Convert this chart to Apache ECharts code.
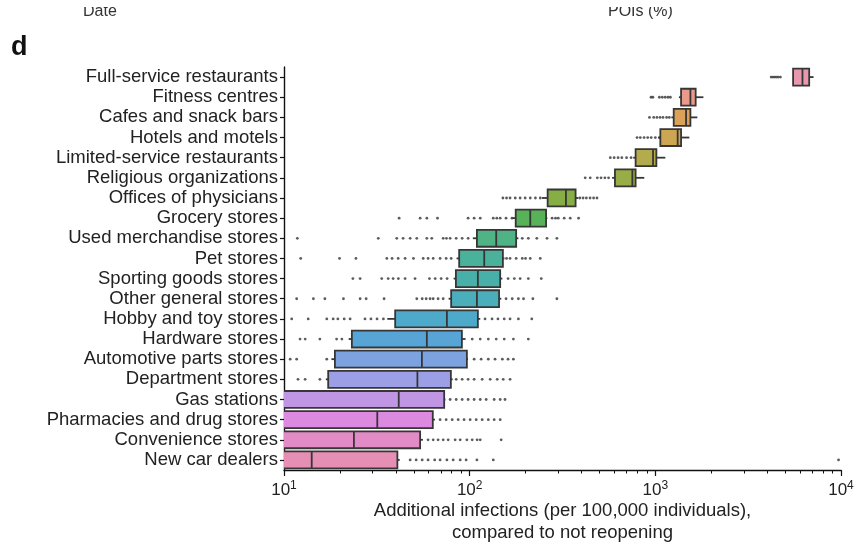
<!DOCTYPE html>
<html>
<head>
<meta charset="utf-8">
<script src="https://cdn.jsdelivr.net/npm/echarts@6/dist/echarts.min.js"></script>
<style>
  html, body { margin: 0; padding: 0; background: #fff; }
  #chart { width: 863px; height: 543px; }
</style>
</head>
<body>
<div id="chart"></div>
<script>
// Business categories, top to bottom
const categories = [
  'Full-service restaurants', 'Fitness centres', 'Cafes and snack bars',
  'Hotels and motels', 'Limited-service restaurants', 'Religious organizations',
  'Offices of physicians', 'Grocery stores', 'Used merchandise stores',
  'Pet stores', 'Sporting goods stores', 'Other general stores',
  'Hobby and toy stores', 'Hardware stores', 'Automotive parts stores',
  'Department stores', 'Gas stations', 'Pharmacies and drug stores',
  'Convenience stores', 'New car dealers'
];

// Box statistics (additional infections per 100,000 individuals)
const whiskerLow = [5521, 1340, 1220, 1040, 760, 585, 245, 170, 104, 85, 82, 77, 36, 22.3, 18, 16.8, 3, 3, 3, 3];
const q1         = [5521, 1376, 1256, 1064, 783, 606, 263, 177, 109.4, 87.8, 84.3, 79.5, 39.7, 23.2, 18.8, 17.3, 4, 4, 4, 4];
const median     = [6201, 1545, 1464, 1319, 972, 752, 330, 212, 139, 119.8, 110.7, 109.4, 75.4, 58.8, 55.3, 52.3, 41.5, 31.8, 23.8, 14.1];
const q3         = [6740, 1649, 1545, 1376, 1013, 783, 372, 258, 178, 151, 146, 144, 110.7, 90.8, 96.6, 79.2, 72.9, 63.3, 54.1, 40.8];
const whiskerHigh = [7112, 1815, 1684, 1525, 1132, 872, 385, 262, 183, 154, 150, 148, 114, 95, 98, 81, 74, 65, 56, 42];

// Outlying simulations per category
const outliers = [
  [4205, 4300, 4400, 4500, 4600, 4720],
  [948, 970, 1051, 1090, 1130, 1170, 1205],
  [930, 980, 1020, 1060, 1100, 1150, 1190],
  [797, 830, 870, 910, 950, 1000, 1051],
  [572, 600, 630, 660, 700, 740],
  [419, 446, 487, 510, 535, 560],
  [151, 158, 165, 176, 187, 199, 212, 226, 240, 392, 408, 425, 445, 465, 485],
  [41.7, 54.1, 58.8, 67.1, 98.1, 105.7, 114, 134, 140, 146, 157, 169, 278, 290, 300, 323, 348, 386],
  [11.8, 32.2, 40.5, 43.8, 47.8, 51.9, 58.8, 62.5, 72, 75, 78.5, 84.6, 91.1, 98.1, 192, 207, 230, 261, 295],
  [12.3, 19.9, 24.4, 35.8, 38.2, 41.2, 44.9, 49.8, 56.2, 59.7, 63.6, 69.3, 74.7, 79.5, 158, 165, 178, 192, 200, 212, 240],
  [23.5, 25.7, 33.6, 36.4, 38.7, 41.3, 44.9, 50.8, 60.7, 65.2, 70.2, 75.6, 161, 174, 187, 207, 243],
  [11.7, 14.4, 16.6, 20.9, 25.7, 27.7, 34.6, 51.9, 55.5, 58.3, 61.2, 63.6, 67.6, 72, 157, 169.5, 183, 195, 219, 295],
  [11.0, 13.5, 17.0, 18.4, 19.5, 21.1, 22.7, 27.3, 29.4, 31.7, 34.3, 121, 132, 142, 153.5, 165, 183, 216],
  [12.2, 13.0, 15.6, 19.2, 20.5, 103.2, 114, 126, 139, 153.5, 172, 207],
  [10.8, 11.7, 17.0, 105.7, 115.3, 126, 137, 150, 161, 172],
  [11.9, 13.0, 15.6, 84.6, 91.1, 98.1, 105.7, 116.8, 129, 140.7, 151.6, 165],
  [78.5, 84.6, 91.1, 98.1, 105.7, 114, 122.7, 135.5, 146, 155],
  [69.3, 74.7, 80.5, 86.7, 93.3, 100.6, 108.4, 116.8, 126, 135.5, 146],
  [59.7, 63.6, 67.6, 72, 76.6, 83.5, 88.9, 96.6, 103.2, 109.7, 114, 147.8],
  [47.8, 51.5, 55.5, 59.7, 64.8, 69.3, 75.4, 81.5, 88.9, 95.7, 109.4, 134, 9700]
];

// Log-axis minor tick values
const minorTicks = [20, 30, 40, 50, 60, 70, 80, 90, 200, 300, 400, 500, 600, 700, 800, 900,
                    2000, 3000, 4000, 5000, 6000, 7000, 8000, 9000];

// Box fill colours, one per category
const boxColors = [
  '#e898ae', '#e99a8a', '#dca158', '#cda653', '#b4ab4c', '#99ad47',
  '#86ae44', '#58b358', '#4fb386', '#4ab29b', '#48b0a9', '#4aaebb',
  '#4eaacb', '#56a5d6', '#7ca2df', '#9c9fe6', '#c096e4', '#db8ae0',
  '#e28bc6', '#e48fb3'
];
const edgeColor = '#363636';
const textColor = '#222';
const fontFamily = 'Liberation Sans, Arial, sans-serif';

const boxData = categories.map((c, i) => [i, whiskerLow[i], q1[i], median[i], q3[i], whiskerHigh[i]]);
const outlierData = [];
outliers.forEach((vals, i) => vals.forEach(v => outlierData.push([v, i])));

const chart = echarts.init(document.getElementById('chart'), null, { renderer: 'canvas' });

function renderBox(params, api) {
  const cat = api.value(0);
  const pLo = api.coord([api.value(1), cat]);
  const pQ1 = api.coord([api.value(2), cat]);
  const pMed = api.coord([api.value(3), cat]);
  const pQ3 = api.coord([api.value(4), cat]);
  const pHi = api.coord([api.value(5), cat]);
  const band = Math.abs(api.coord([10, cat + 1])[1] - api.coord([10, cat])[1]) || 20;
  const h = band * 0.84;
  const y = pQ1[1];
  const lineStyle = { stroke: edgeColor, lineWidth: 1.8 };
  return {
    type: 'group',
    children: [
      { type: 'line', shape: { x1: pLo[0], y1: y, x2: pQ1[0], y2: y }, style: lineStyle },
      { type: 'line', shape: { x1: pQ3[0], y1: y, x2: pHi[0], y2: y }, style: lineStyle },
      {
        type: 'rect',
        shape: { x: pQ1[0], y: y - h / 2, width: pQ3[0] - pQ1[0], height: h },
        style: { fill: boxColors[cat], stroke: edgeColor, lineWidth: 1.8 }
      },
      { type: 'line', shape: { x1: pMed[0], y1: y - h / 2, x2: pMed[0], y2: y + h / 2 }, style: lineStyle }
    ]
  };
}

const option = {
  animation: false,
  backgroundColor: '#fff',
  textStyle: { fontFamily: fontFamily },
  grid: { left: 284, right: 22, top: 67, bottom: 73, containLabel: false, outerBoundsMode: 'none' },
  xAxis: [
    {
      type: 'log',
      logBase: 10,
      min: 10,
      max: 10000,
      position: 'bottom',
      axisLine: { show: true, lineStyle: { color: '#111', width: 1.4 } },
      axisTick: { show: true, length: 6, lineStyle: { color: '#111', width: 1.2 } },
      splitLine: { show: false },
      axisLabel: {
        color: textColor,
        margin: 10,
        fontSize: 17,
        formatter: v => '10{s|' + Math.round(Math.log10(v)) + '}',
        rich: { s: { fontSize: 12, verticalAlign: 'top', padding: [0, 0, 9, 0], color: textColor } }
      },
      name: 'Additional infections (per 100,000 individuals),\ncompared to not reopening',
      nameLocation: 'middle',
      nameGap: 30,
      nameMoveOverlap: false,
      nameTextStyle: { color: textColor, fontSize: 18.5, lineHeight: 22 }
    },
    {
      type: 'log',
      logBase: 10,
      min: 10,
      max: 10000,
      position: 'bottom',
      axisLine: { show: false },
      axisLabel: { show: false },
      splitLine: { show: false },
      axisTick: { show: true, length: 3.5, customValues: minorTicks, lineStyle: { color: '#111', width: 1 } }
    }
  ],
  yAxis: {
    type: 'category',
    data: categories,
    inverse: true,
    axisLine: { show: true, lineStyle: { color: '#111', width: 1.4 } },
    axisTick: { show: true, length: 4, interval: 0, alignWithLabel: true, lineStyle: { color: '#111', width: 1.2 } },
    splitLine: { show: false },
    axisLabel: { color: textColor, fontSize: 18.5, margin: 6, interval: 0 }
  },
  graphic: [
    { type: 'text', left: 11, top: 34, style: { text: 'd', font: 'bold 27px ' + fontFamily, fill: '#111' } },
    { type: 'text', left: 83, top: 4, style: { text: 'Date', font: '16px ' + fontFamily, fill: '#333' } },
    { type: 'text', left: 608, top: 4, style: { text: 'POIs (%)', font: '16px ' + fontFamily, fill: '#333' } },
    // the neighbouring panel above is cut off along this strip
    { type: 'rect', left: 0, top: 0, shape: { width: 863, height: 7 }, style: { fill: '#fff' }, z: 10 }
  ],
  series: [
    {
      type: 'custom',
      name: 'box',
      clip: true,
      renderItem: renderBox,
      encode: { x: [1, 2, 3, 4, 5], y: 0 },
      data: boxData,
      z: 2
    },
    {
      type: 'scatter',
      name: 'outliers',
      symbol: 'circle',
      symbolSize: 2.8,
      itemStyle: { color: '#333' },
      data: outlierData,
      z: 3
    }
  ]
};

chart.setOption(option);
</script>
</body>
</html>
